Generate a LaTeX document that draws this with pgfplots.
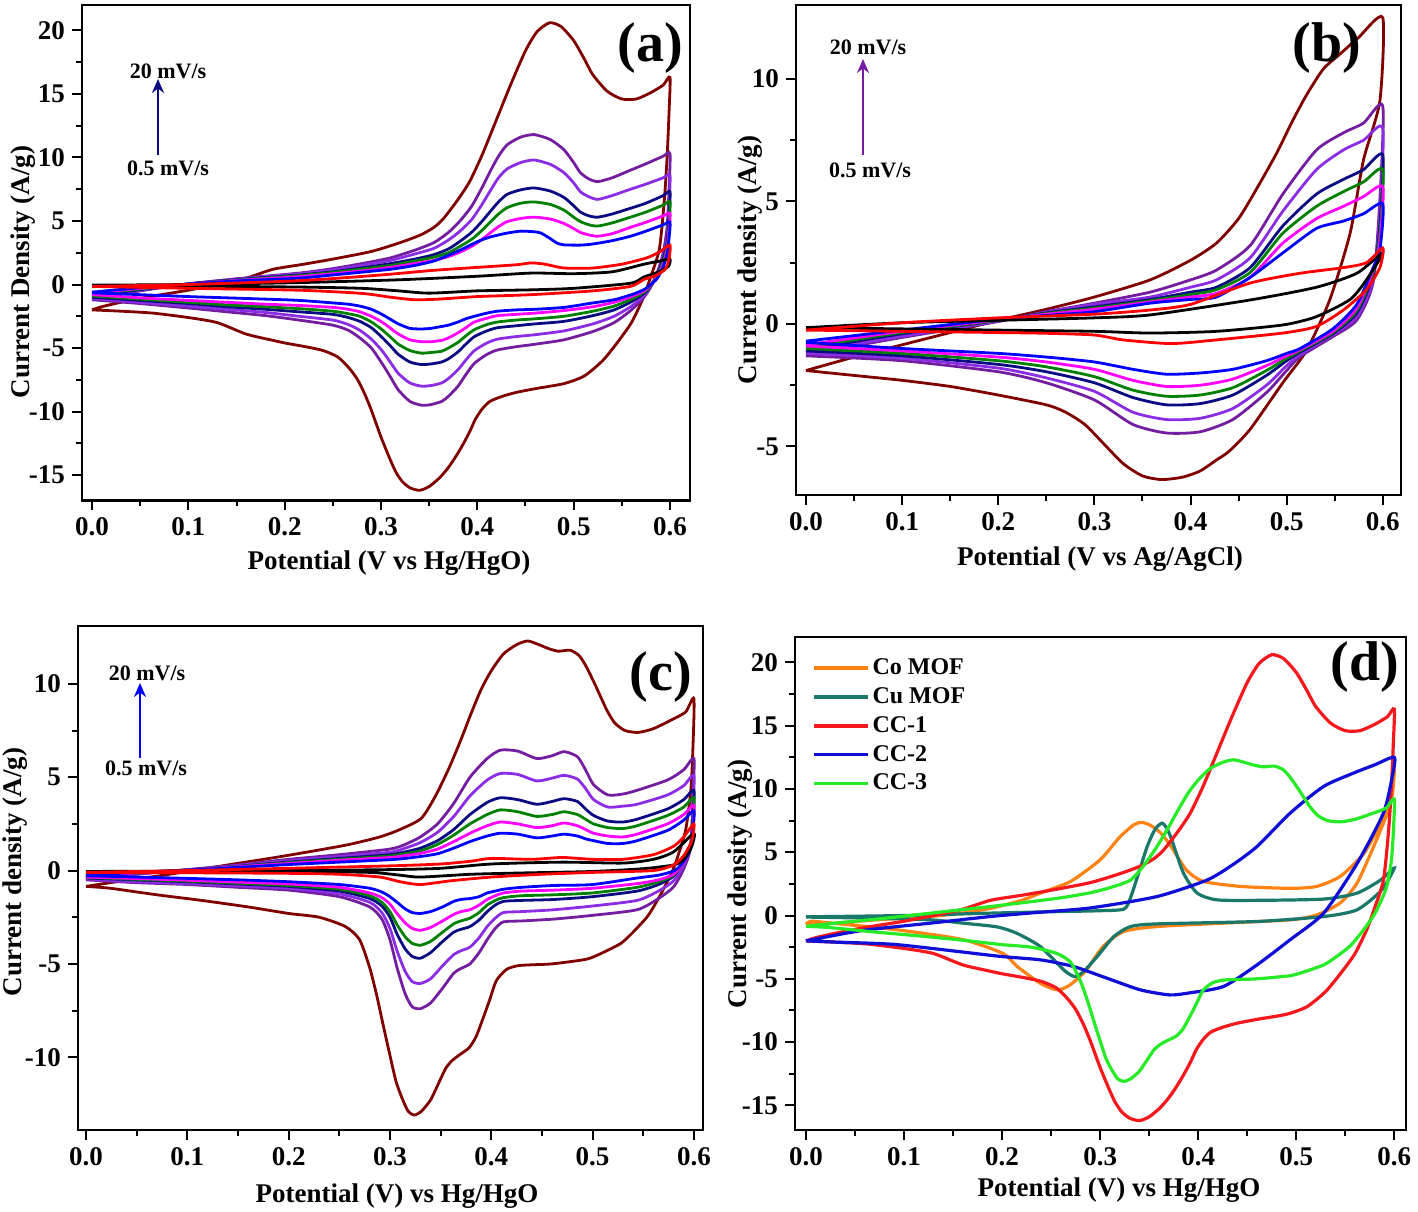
\documentclass[border=0pt]{standalone}
\usepackage{fontspec}
\setmainfont{Liberation Serif}
\usepackage{pgfplots}
\usepackage{pgfplotstable}
\pgfplotsset{compat=1.18}
\usetikzlibrary{arrows.meta}

\definecolor{cmar}{RGB}{128,0,0}
\definecolor{cpur}{RGB}{115,30,160}
\definecolor{cvio}{RGB}{140,45,230}
\definecolor{cnav}{RGB}{10,10,130}
\definecolor{cgrn}{RGB}{0,128,0}
\definecolor{cmag}{RGB}{255,0,255}
\definecolor{cblu}{RGB}{0,0,255}
\definecolor{cred}{RGB}{255,0,0}
\definecolor{dor}{RGB}{255,130,20}
\definecolor{dteal}{RGB}{25,120,105}
\definecolor{dred}{RGB}{245,25,30}
\definecolor{dblu}{RGB}{15,15,215}
\definecolor{dgrn}{RGB}{40,235,40}

\newcommand{\tickfont}{\fontsize{13.5}{14}\selectfont\bfseries}
\newcommand{\labfont}{\fontsize{13.5}{14}\selectfont\bfseries}
\newcommand{\notefont}{\fontsize{11}{12}\selectfont\bfseries}
\newcommand{\panfont}{\fontsize{28}{28}\selectfont\bfseries}

% ---------- shared curves (20 mV/s = CC samples) ----------
\pgfplotstableread[row sep=\\]{x y\\
0 -2.0\\ 0.01 -1.75\\ 0.03 -1.4\\ 0.06 -0.95\\ 0.1 -0.45\\ 0.13 0.0\\ 0.16 0.5\\ 0.188 1.2\\ 0.22 1.6\\ 0.25 2.0\\
0.29 2.6\\ 0.32 3.3\\ 0.341 3.9\\ 0.355 4.5\\ 0.365 5.2\\ 0.38 6.7\\ 0.392 8.1\\ 0.405 10.2\\ 0.42 13.0\\ 0.435 15.8\\
0.45 18.4\\ 0.462 19.9\\ 0.475 20.6\\ 0.487 20.3\\ 0.5 19.2\\ 0.51 17.9\\ 0.52 16.5\\ 0.535 15.2\\ 0.55 14.6\\ 0.565 14.6\\
0.58 15.1\\ 0.593 15.7\\ 0.6 16.3\\ 0.599 13.5\\ 0.597 10\\ 0.594 6.5\\ 0.589 2.8\\ 0.58 0.6\\ 0.572 -1.1\\ 0.56 -3.0\\
0.545 -4.6\\ 0.53 -6.0\\ 0.511 -7.2\\ 0.49 -7.8\\ 0.46 -8.2\\ 0.44 -8.5\\ 0.426 -8.8\\ 0.413 -9.2\\ 0.405 -9.8\\ 0.398 -10.6\\
0.392 -11.6\\ 0.385 -12.6\\ 0.378 -13.5\\ 0.37 -14.4\\ 0.361 -15.2\\ 0.35 -15.9\\ 0.34 -16.2\\ 0.33 -16.0\\ 0.322 -15.5\\ 0.315 -14.7\\
0.308 -13.5\\ 0.3 -12.0\\ 0.29 -9.9\\ 0.283 -8.6\\ 0.275 -7.4\\ 0.266 -6.5\\ 0.255 -5.7\\ 0.24 -5.2\\ 0.222 -4.9\\ 0.2 -4.6\\
0.188 -4.4\\ 0.16 -3.9\\ 0.13 -3.0\\ 0.1 -2.6\\ 0.063 -2.25\\ 0.03 -2.1\\ 0 -2.0\\
}\ccone

\pgfplotstableread[row sep=\\]{x y\\
0 -0.85\\ 0.03 -0.6\\ 0.07 -0.3\\ 0.1 -0.05\\ 0.14 0.3\\ 0.188 0.71\\ 0.23 1.1\\ 0.26 1.4\\ 0.29 1.8\\ 0.31 2.2\\
0.331 2.8\\ 0.345 4.0\\ 0.358 5.45\\ 0.37 7.0\\ 0.38 8.4\\ 0.39 9.7\\ 0.4 10.7\\ 0.412 11.6\\ 0.425 12.1\\ 0.436 12.3\\
0.447 12.1\\ 0.456 11.9\\ 0.466 11.75\\ 0.478 11.8\\ 0.487 11.5\\ 0.494 10.9\\ 0.503 9.9\\ 0.514 8.6\\ 0.522 7.9\\ 0.532 7.5\\
0.545 7.4\\ 0.56 7.6\\ 0.579 8.1\\ 0.592 8.5\\ 0.6 9.2\\ 0.599 6.5\\ 0.597 4.3\\ 0.592 2.2\\ 0.585 0.9\\ 0.579 0.0\\
0.568 -1.2\\ 0.555 -2.4\\ 0.54 -3.3\\ 0.528 -3.9\\ 0.51 -4.4\\ 0.494 -4.75\\ 0.46 -5.0\\ 0.44 -5.05\\ 0.426 -5.1\\ 0.415 -5.3\\
0.405 -5.9\\ 0.398 -7.0\\ 0.392 -7.9\\ 0.385 -8.9\\ 0.378 -9.5\\ 0.368 -9.9\\ 0.361 -10.2\\ 0.355 -10.6\\ 0.348 -11.4\\ 0.34 -12.3\\
0.331 -12.9\\ 0.324 -13.1\\ 0.318 -12.9\\ 0.312 -12.2\\ 0.306 -11.3\\ 0.3 -9.9\\ 0.293 -8.2\\ 0.287 -6.7\\ 0.28 -5.2\\ 0.27 -3.7\\
0.256 -3.0\\ 0.23 -2.5\\ 0.2 -2.3\\ 0.16 -1.95\\ 0.114 -1.6\\ 0.07 -1.3\\ 0.024 -0.95\\ 0 -0.85\\
}\ccthree

% ---------- panel (a) ----------
\pgfplotstableread[row sep=\\]{x y\\
0 -1.1\\ 0.05 -0.5\\ 0.1 0.05\\ 0.15 0.45\\ 0.215 0.9\\ 0.25 1.25\\ 0.284 1.7\\ 0.31 2.1\\ 0.335 2.7\\ 0.355 3.3\\
0.37 4.1\\ 0.382 5.0\\ 0.394 6.15\\ 0.404 7.5\\ 0.414 9.0\\ 0.422 10.1\\ 0.431 11.0\\ 0.445 11.6\\ 0.459 11.8\\ 0.476 11.4\\
0.49 10.6\\ 0.5 9.6\\ 0.507 8.8\\ 0.516 8.3\\ 0.525 8.1\\ 0.54 8.4\\ 0.559 9.0\\ 0.575 9.5\\ 0.593 10.1\\ 0.6 10.3\\
0.599 7.5\\ 0.597 4.5\\ 0.593 2.5\\ 0.587 1.0\\ 0.58 -0.2\\ 0.573 -1.0\\ 0.56 -2.0\\ 0.542 -3.0\\ 0.52 -3.7\\ 0.49 -4.35\\
0.46 -4.7\\ 0.44 -4.9\\ 0.421 -5.15\\ 0.41 -5.5\\ 0.397 -6.2\\ 0.388 -7.1\\ 0.38 -8.0\\ 0.37 -8.8\\ 0.363 -9.2\\ 0.352 -9.45\\
0.342 -9.5\\ 0.33 -9.2\\ 0.318 -8.3\\ 0.31 -7.3\\ 0.301 -6.2\\ 0.29 -5.0\\ 0.278 -4.2\\ 0.266 -3.6\\ 0.25 -3.2\\ 0.215 -2.8\\
0.18 -2.45\\ 0.14 -2.15\\ 0.1 -1.85\\ 0.05 -1.5\\ 0 -1.2\\
}\aP
\pgfplotstableread[row sep=\\]{x y\\
0 -1.0\\ 0.05 -0.45\\ 0.1 0.05\\ 0.15 0.42\\ 0.215 0.85\\ 0.25 1.15\\ 0.284 1.55\\ 0.31 1.9\\ 0.335 2.4\\ 0.355 2.85\\
0.37 3.5\\ 0.382 4.2\\ 0.394 5.1\\ 0.404 6.2\\ 0.414 7.45\\ 0.422 8.4\\ 0.431 9.1\\ 0.445 9.6\\ 0.459 9.8\\ 0.476 9.45\\
0.49 8.8\\ 0.5 8.0\\ 0.507 7.3\\ 0.516 6.9\\ 0.525 6.7\\ 0.54 7.0\\ 0.559 7.5\\ 0.575 7.9\\ 0.593 8.4\\ 0.6 8.6\\
0.599 6.3\\ 0.597 3.8\\ 0.593 2.2\\ 0.587 0.9\\ 0.58 -0.15\\ 0.573 -0.85\\ 0.56 -1.7\\ 0.542 -2.5\\ 0.52 -3.1\\ 0.49 -3.65\\
0.46 -3.95\\ 0.44 -4.1\\ 0.421 -4.3\\ 0.41 -4.6\\ 0.397 -5.2\\ 0.388 -5.95\\ 0.38 -6.7\\ 0.37 -7.4\\ 0.363 -7.75\\ 0.352 -7.95\\
0.342 -8.0\\ 0.33 -7.75\\ 0.318 -7.0\\ 0.31 -6.15\\ 0.301 -5.2\\ 0.29 -4.3\\ 0.278 -3.6\\ 0.266 -3.15\\ 0.25 -2.8\\ 0.215 -2.5\\
0.18 -2.2\\ 0.14 -1.95\\ 0.1 -1.7\\ 0.05 -1.4\\ 0 -1.1\\
}\aV
\pgfplotstableread[row sep=\\]{x y\\
0 -0.9\\ 0.05 -0.4\\ 0.1 0.04\\ 0.15 0.38\\ 0.215 0.75\\ 0.25 1.0\\ 0.284 1.35\\ 0.31 1.65\\ 0.335 2.0\\ 0.355 2.35\\
0.37 2.8\\ 0.382 3.4\\ 0.394 4.1\\ 0.404 4.9\\ 0.414 5.8\\ 0.422 6.5\\ 0.431 7.1\\ 0.445 7.45\\ 0.459 7.6\\ 0.476 7.35\\
0.49 6.85\\ 0.5 6.2\\ 0.507 5.7\\ 0.516 5.4\\ 0.525 5.3\\ 0.54 5.55\\ 0.559 6.0\\ 0.575 6.4\\ 0.593 7.0\\ 0.6 7.3\\
0.599 5.3\\ 0.597 3.3\\ 0.593 2.0\\ 0.587 0.8\\ 0.58 -0.1\\ 0.573 -0.7\\ 0.56 -1.35\\ 0.542 -2.0\\ 0.52 -2.45\\ 0.49 -2.9\\
0.46 -3.1\\ 0.44 -3.25\\ 0.421 -3.4\\ 0.41 -3.65\\ 0.397 -4.1\\ 0.388 -4.7\\ 0.38 -5.3\\ 0.37 -5.85\\ 0.363 -6.1\\ 0.352 -6.25\\
0.342 -6.3\\ 0.33 -6.1\\ 0.318 -5.5\\ 0.31 -4.85\\ 0.301 -4.15\\ 0.29 -3.4\\ 0.278 -2.9\\ 0.266 -2.6\\ 0.25 -2.35\\ 0.215 -2.15\\
0.18 -1.95\\ 0.14 -1.75\\ 0.1 -1.5\\ 0.05 -1.25\\ 0 -1.0\\
}\aN
\pgfplotstableread[row sep=\\]{x y\\
0 -0.8\\ 0.05 -0.35\\ 0.1 0.04\\ 0.15 0.35\\ 0.215 0.7\\ 0.25 0.95\\ 0.284 1.25\\ 0.31 1.5\\ 0.335 1.85\\ 0.355 2.15\\
0.37 2.5\\ 0.382 3.0\\ 0.394 3.55\\ 0.404 4.2\\ 0.414 4.95\\ 0.422 5.55\\ 0.431 6.05\\ 0.445 6.4\\ 0.459 6.5\\ 0.476 6.3\\
0.49 5.85\\ 0.5 5.3\\ 0.507 4.95\\ 0.516 4.7\\ 0.525 4.6\\ 0.54 4.85\\ 0.559 5.3\\ 0.575 5.7\\ 0.593 6.25\\ 0.6 6.5\\
0.599 4.7\\ 0.597 3.0\\ 0.593 1.8\\ 0.587 0.7\\ 0.58 -0.1\\ 0.573 -0.6\\ 0.56 -1.15\\ 0.542 -1.7\\ 0.52 -2.1\\ 0.49 -2.5\\
0.46 -2.7\\ 0.44 -2.8\\ 0.421 -2.95\\ 0.41 -3.15\\ 0.397 -3.55\\ 0.388 -4.05\\ 0.38 -4.55\\ 0.37 -5.0\\ 0.363 -5.25\\ 0.352 -5.35\\
0.342 -5.4\\ 0.33 -5.2\\ 0.318 -4.7\\ 0.31 -4.15\\ 0.301 -3.55\\ 0.29 -2.95\\ 0.278 -2.5\\ 0.266 -2.3\\ 0.25 -2.1\\ 0.215 -1.9\\
0.18 -1.75\\ 0.14 -1.6\\ 0.1 -1.4\\ 0.05 -1.15\\ 0 -0.9\\
}\aG
\pgfplotstableread[row sep=\\]{x y\\
0 -0.7\\ 0.05 -0.3\\ 0.1 0.03\\ 0.15 0.32\\ 0.215 0.62\\ 0.25 0.85\\ 0.284 1.1\\ 0.31 1.35\\ 0.335 1.65\\ 0.355 1.9\\
0.37 2.2\\ 0.382 2.55\\ 0.394 3.0\\ 0.404 3.5\\ 0.414 4.1\\ 0.422 4.55\\ 0.431 4.95\\ 0.445 5.2\\ 0.459 5.3\\ 0.476 5.15\\
0.49 4.8\\ 0.5 4.4\\ 0.507 4.1\\ 0.516 3.9\\ 0.525 3.8\\ 0.54 4.0\\ 0.559 4.5\\ 0.575 4.9\\ 0.593 5.4\\ 0.6 5.6\\
0.599 4.2\\ 0.597 2.7\\ 0.593 1.6\\ 0.587 0.6\\ 0.58 -0.05\\ 0.573 -0.5\\ 0.56 -0.95\\ 0.542 -1.4\\ 0.52 -1.75\\ 0.49 -2.05\\
0.46 -2.25\\ 0.44 -2.35\\ 0.421 -2.45\\ 0.41 -2.65\\ 0.397 -2.95\\ 0.388 -3.4\\ 0.38 -3.8\\ 0.37 -4.2\\ 0.363 -4.4\\ 0.352 -4.5\\
0.342 -4.5\\ 0.33 -4.35\\ 0.318 -3.9\\ 0.31 -3.45\\ 0.301 -2.95\\ 0.29 -2.5\\ 0.278 -2.15\\ 0.266 -1.95\\ 0.25 -1.8\\ 0.215 -1.65\\
0.18 -1.55\\ 0.14 -1.4\\ 0.1 -1.25\\ 0.05 -1.05\\ 0 -0.8\\
}\aM
\pgfplotstableread[row sep=\\]{x y\\
0 -0.6\\ 0.05 -0.25\\ 0.1 0.03\\ 0.15 0.28\\ 0.215 0.5\\ 0.25 0.75\\ 0.284 1.0\\ 0.31 1.2\\ 0.335 1.5\\ 0.355 1.85\\
0.37 2.3\\ 0.382 2.7\\ 0.394 3.15\\ 0.404 3.5\\ 0.414 3.75\\ 0.422 3.9\\ 0.431 4.05\\ 0.445 4.2\\ 0.459 4.15\\ 0.466 4.05\\
0.476 3.6\\ 0.483 3.25\\ 0.49 3.12\\ 0.5 3.1\\ 0.507 3.1\\ 0.516 3.15\\ 0.525 3.25\\ 0.54 3.45\\ 0.559 3.8\\ 0.575 4.2\\
0.593 4.7\\ 0.6 4.9\\ 0.599 3.6\\ 0.597 2.4\\ 0.593 1.4\\ 0.587 0.5\\ 0.58 0.0\\ 0.573 -0.4\\ 0.56 -0.8\\ 0.542 -1.2\\
0.52 -1.45\\ 0.49 -1.8\\ 0.46 -1.95\\ 0.44 -2.0\\ 0.421 -2.1\\ 0.41 -2.25\\ 0.397 -2.5\\ 0.388 -2.7\\ 0.38 -2.95\\ 0.37 -3.2\\
0.363 -3.3\\ 0.352 -3.45\\ 0.342 -3.5\\ 0.33 -3.45\\ 0.318 -3.1\\ 0.31 -2.75\\ 0.301 -2.35\\ 0.29 -1.95\\ 0.278 -1.7\\ 0.266 -1.55\\
0.25 -1.45\\ 0.215 -1.25\\ 0.18 -1.15\\ 0.14 -1.05\\ 0.1 -0.95\\ 0.05 -0.8\\ 0 -0.65\\
}\aB
\pgfplotstableread[row sep=\\]{x y\\
0 -0.15\\ 0.1 0.0\\ 0.215 0.3\\ 0.3 0.75\\ 0.352 1.1\\ 0.4 1.35\\ 0.44 1.55\\ 0.456 1.7\\ 0.47 1.6\\ 0.49 1.3\\
0.52 1.3\\ 0.55 1.6\\ 0.576 2.1\\ 0.59 2.6\\ 0.6 3.1\\ 0.599 2.0\\ 0.595 1.2\\ 0.585 0.7\\ 0.573 0.4\\ 0.559 -0.15\\
0.52 -0.5\\ 0.456 -0.8\\ 0.4 -0.95\\ 0.36 -1.15\\ 0.335 -1.2\\ 0.31 -1.0\\ 0.28 -0.7\\ 0.215 -0.45\\ 0.1 -0.3\\ 0 -0.15\\
}\aR
\pgfplotstableread[row sep=\\]{x y\\
0 -0.05\\ 0.1 0.0\\ 0.215 0.15\\ 0.318 0.37\\ 0.4 0.65\\ 0.456 0.9\\ 0.5 0.85\\ 0.54 1.0\\ 0.573 1.6\\ 0.59 1.85\\
0.6 2.0\\ 0.598 1.4\\ 0.585 0.9\\ 0.573 0.6\\ 0.559 0.1\\ 0.5 -0.3\\ 0.456 -0.42\\ 0.4 -0.5\\ 0.35 -0.68\\ 0.318 -0.5\\
0.28 -0.3\\ 0.215 -0.2\\ 0.1 -0.12\\ 0 -0.05\\
}\aK

% ---------- panel (b) ----------
\pgfplotstableread[row sep=\\]{x y\\
0 -1.9\\ 0.05 -1.35\\ 0.1 -0.85\\ 0.15 -0.35\\ 0.2 0.15\\ 0.25 0.6\\ 0.3 1.1\\ 0.358 1.8\\ 0.4 2.6\\ 0.427 3.3\\
0.45 4.3\\ 0.47 5.6\\ 0.49 7.0\\ 0.505 8.2\\ 0.52 9.3\\ 0.538 10.4\\ 0.555 11.0\\ 0.575 11.7\\ 0.6 12.5\\ 0.597 9.1\\
0.58 6.7\\ 0.566 3.7\\ 0.545 1.0\\ 0.521 -1.06\\ 0.496 -2.4\\ 0.462 -4.3\\ 0.44 -5.2\\ 0.427 -5.55\\ 0.41 -6.0\\ 0.392 -6.25\\
0.37 -6.35\\ 0.35 -6.2\\ 0.33 -5.7\\ 0.31 -4.9\\ 0.29 -4.1\\ 0.27 -3.6\\ 0.25 -3.3\\ 0.2 -2.9\\ 0.15 -2.55\\ 0.1 -2.3\\
0.05 -2.1\\ 0 -1.9\\
}\bMar
\pgfplotstableread[row sep=\\]{x y\\
0 -1.25\\ 0.1 -0.55\\ 0.2 0.1\\ 0.25 0.5\\ 0.3 0.85\\ 0.358 1.3\\ 0.4 1.8\\ 0.427 2.2\\ 0.462 3.2\\ 0.496 5.3\\
0.531 7.1\\ 0.559 7.8\\ 0.58 8.2\\ 0.6 8.9\\ 0.597 5.1\\ 0.59 1.7\\ 0.573 0.16\\ 0.548 -0.52\\ 0.514 -1.33\\ 0.5 -1.9\\
0.479 -2.8\\ 0.444 -3.9\\ 0.41 -4.4\\ 0.375 -4.45\\ 0.34 -4.1\\ 0.3 -3.1\\ 0.25 -2.4\\ 0.2 -1.95\\ 0.1 -1.5\\ 0 -1.3\\
}\bP
\pgfplotstableread[row sep=\\]{x y\\
0 -1.15\\ 0.1 -0.5\\ 0.2 0.12\\ 0.25 0.48\\ 0.3 0.8\\ 0.358 1.1\\ 0.4 1.5\\ 0.427 1.8\\ 0.462 2.7\\ 0.496 4.6\\
0.531 6.3\\ 0.559 7.1\\ 0.58 7.5\\ 0.6 8.0\\ 0.597 4.5\\ 0.59 1.8\\ 0.573 0.3\\ 0.548 -0.45\\ 0.514 -1.25\\ 0.5 -1.7\\
0.479 -2.5\\ 0.444 -3.45\\ 0.41 -3.85\\ 0.375 -3.9\\ 0.34 -3.6\\ 0.3 -2.75\\ 0.25 -2.2\\ 0.2 -1.8\\ 0.1 -1.4\\ 0 -1.2\\
}\bV
\pgfplotstableread[row sep=\\]{x y\\
0 -1.05\\ 0.1 -0.4\\ 0.2 0.15\\ 0.25 0.45\\ 0.3 0.7\\ 0.358 1.0\\ 0.4 1.3\\ 0.427 1.5\\ 0.462 2.3\\ 0.496 4.0\\
0.531 5.3\\ 0.559 5.9\\ 0.58 6.3\\ 0.6 6.9\\ 0.597 4.0\\ 0.59 2.0\\ 0.573 0.45\\ 0.548 -0.4\\ 0.514 -1.15\\ 0.5 -1.5\\
0.479 -2.1\\ 0.444 -2.9\\ 0.41 -3.25\\ 0.375 -3.3\\ 0.34 -3.0\\ 0.3 -2.4\\ 0.25 -1.95\\ 0.2 -1.65\\ 0.1 -1.3\\ 0 -1.1\\
}\bN
\pgfplotstableread[row sep=\\]{x y\\
0 -0.95\\ 0.1 -0.35\\ 0.2 0.15\\ 0.25 0.43\\ 0.3 0.65\\ 0.358 0.95\\ 0.4 1.2\\ 0.427 1.4\\ 0.462 2.1\\ 0.496 3.7\\
0.531 4.8\\ 0.559 5.4\\ 0.58 5.8\\ 0.6 6.3\\ 0.597 3.7\\ 0.59 2.1\\ 0.573 0.55\\ 0.548 -0.35\\ 0.514 -1.1\\ 0.5 -1.4\\
0.479 -1.9\\ 0.444 -2.6\\ 0.41 -2.9\\ 0.375 -2.95\\ 0.34 -2.7\\ 0.3 -2.15\\ 0.25 -1.75\\ 0.2 -1.5\\ 0.1 -1.2\\ 0 -1.0\\
}\bG
\pgfplotstableread[row sep=\\]{x y\\
0 -0.85\\ 0.1 -0.3\\ 0.2 0.17\\ 0.25 0.4\\ 0.3 0.6\\ 0.358 0.9\\ 0.4 1.1\\ 0.427 1.25\\ 0.462 1.9\\ 0.496 3.3\\
0.531 4.3\\ 0.559 4.8\\ 0.58 5.2\\ 0.6 5.6\\ 0.597 3.4\\ 0.59 2.2\\ 0.573 0.65\\ 0.548 -0.3\\ 0.514 -1.05\\ 0.5 -1.3\\
0.479 -1.7\\ 0.444 -2.25\\ 0.41 -2.5\\ 0.375 -2.55\\ 0.34 -2.3\\ 0.3 -1.85\\ 0.25 -1.55\\ 0.2 -1.35\\ 0.1 -1.1\\ 0 -0.9\\
}\bM
\pgfplotstableread[row sep=\\]{x y\\
0 -0.7\\ 0.1 -0.25\\ 0.2 0.2\\ 0.25 0.35\\ 0.3 0.5\\ 0.358 0.85\\ 0.4 1.0\\ 0.427 1.1\\ 0.462 1.9\\ 0.496 2.9\\
0.531 3.9\\ 0.559 4.2\\ 0.58 4.5\\ 0.6 4.9\\ 0.597 3.0\\ 0.59 2.3\\ 0.573 0.8\\ 0.548 -0.2\\ 0.514 -1.0\\ 0.5 -1.2\\
0.479 -1.5\\ 0.444 -1.85\\ 0.41 -2.0\\ 0.375 -2.05\\ 0.34 -1.85\\ 0.3 -1.55\\ 0.25 -1.35\\ 0.2 -1.2\\ 0.1 -1.0\\ 0 -0.75\\
}\bB
\pgfplotstableread[row sep=\\]{x y\\
0 -0.25\\ 0.1 0.05\\ 0.2 0.25\\ 0.3 0.4\\ 0.358 0.57\\ 0.4 0.8\\ 0.462 1.67\\ 0.514 2.07\\ 0.559 2.3\\ 0.583 2.5\\
0.6 3.1\\ 0.597 2.3\\ 0.583 1.4\\ 0.559 0.57\\ 0.531 -0.1\\ 0.496 -0.37\\ 0.427 -0.65\\ 0.38 -0.8\\ 0.33 -0.65\\ 0.3 -0.45\\
0.25 -0.38\\ 0.2 -0.35\\ 0.1 -0.3\\ 0 -0.25\\
}\bR
\pgfplotstableread[row sep=\\]{x y\\
0 -0.15\\ 0.1 0.05\\ 0.2 0.15\\ 0.3 0.25\\ 0.358 0.37\\ 0.462 0.98\\ 0.531 1.5\\ 0.573 2.07\\ 0.6 2.9\\ 0.583 1.8\\
0.566 1.0\\ 0.531 0.3\\ 0.496 -0.04\\ 0.427 -0.3\\ 0.358 -0.37\\ 0.3 -0.3\\ 0.2 -0.25\\ 0.1 -0.2\\ 0 -0.15\\
}\bK

% ---------- panel (c) ----------
\pgfplotstableread[row sep=\\]{x y\\
0 -0.45\\ 0.05 -0.2\\ 0.1 0.05\\ 0.15 0.3\\ 0.2 0.6\\ 0.25 0.85\\ 0.3 1.15\\ 0.315 1.4\\ 0.33 1.8\\ 0.347 2.5\\
0.363 3.6\\ 0.379 5.0\\ 0.396 6.0\\ 0.409 6.45\\ 0.426 6.4\\ 0.445 6.0\\ 0.46 6.15\\ 0.472 6.37\\ 0.485 6.1\\ 0.493 5.4\\
0.501 4.6\\ 0.515 4.05\\ 0.53 4.1\\ 0.544 4.3\\ 0.574 4.85\\ 0.59 5.4\\ 0.6 6.0\\ 0.599 4.0\\ 0.597 1.3\\ 0.59 0.1\\
0.58 -0.87\\ 0.565 -1.5\\ 0.544 -2.1\\ 0.5 -2.4\\ 0.462 -2.6\\ 0.43 -2.7\\ 0.412 -2.75\\ 0.404 -3.1\\ 0.396 -3.7\\ 0.388 -4.4\\
0.379 -5.0\\ 0.37 -5.25\\ 0.363 -5.5\\ 0.352 -6.3\\ 0.34 -7.1\\ 0.33 -7.4\\ 0.322 -7.3\\ 0.315 -6.6\\ 0.307 -5.2\\ 0.3 -3.7\\
0.292 -2.6\\ 0.28 -1.95\\ 0.25 -1.4\\ 0.2 -1.05\\ 0.15 -0.9\\ 0.1 -0.75\\ 0.05 -0.65\\ 0 -0.5\\
}\cP
\pgfplotstableread[row sep=\\]{x y\\
0 -0.4\\ 0.05 -0.18\\ 0.1 0.04\\ 0.15 0.27\\ 0.2 0.52\\ 0.25 0.75\\ 0.3 0.98\\ 0.315 1.2\\ 0.33 1.5\\ 0.347 2.05\\
0.363 2.9\\ 0.379 4.0\\ 0.396 4.85\\ 0.409 5.2\\ 0.426 5.15\\ 0.445 4.8\\ 0.46 4.95\\ 0.472 5.1\\ 0.485 4.9\\ 0.493 4.4\\
0.501 3.8\\ 0.515 3.4\\ 0.53 3.45\\ 0.544 3.55\\ 0.574 4.05\\ 0.59 4.55\\ 0.6 5.1\\ 0.599 3.4\\ 0.597 1.4\\ 0.59 0.3\\
0.58 -0.55\\ 0.565 -1.1\\ 0.544 -1.6\\ 0.5 -1.9\\ 0.462 -2.1\\ 0.43 -2.2\\ 0.412 -2.25\\ 0.404 -2.55\\ 0.396 -3.0\\ 0.388 -3.6\\
0.379 -4.1\\ 0.37 -4.3\\ 0.363 -4.5\\ 0.352 -5.1\\ 0.34 -5.8\\ 0.33 -6.05\\ 0.322 -5.95\\ 0.315 -5.4\\ 0.307 -4.3\\ 0.3 -3.1\\
0.292 -2.25\\ 0.28 -1.7\\ 0.25 -1.25\\ 0.2 -0.95\\ 0.15 -0.82\\ 0.1 -0.7\\ 0.05 -0.6\\ 0 -0.45\\
}\cV
\pgfplotstableread[row sep=\\]{x y\\
0 -0.35\\ 0.05 -0.15\\ 0.1 0.03\\ 0.15 0.23\\ 0.2 0.45\\ 0.25 0.65\\ 0.3 0.85\\ 0.315 1.0\\ 0.33 1.2\\ 0.347 1.6\\
0.363 2.2\\ 0.379 3.0\\ 0.396 3.65\\ 0.409 3.9\\ 0.426 3.8\\ 0.445 3.55\\ 0.46 3.7\\ 0.472 3.85\\ 0.485 3.7\\ 0.493 3.3\\
0.501 2.95\\ 0.515 2.65\\ 0.53 2.6\\ 0.544 2.75\\ 0.574 3.3\\ 0.59 3.8\\ 0.6 4.3\\ 0.599 2.8\\ 0.597 1.5\\ 0.59 0.5\\
0.58 -0.3\\ 0.565 -0.75\\ 0.544 -1.1\\ 0.5 -1.4\\ 0.462 -1.55\\ 0.43 -1.6\\ 0.412 -1.65\\ 0.404 -1.85\\ 0.396 -2.2\\ 0.388 -2.65\\
0.379 -3.0\\ 0.37 -3.15\\ 0.363 -3.3\\ 0.352 -3.8\\ 0.34 -4.4\\ 0.33 -4.7\\ 0.322 -4.6\\ 0.315 -4.2\\ 0.307 -3.4\\ 0.3 -2.5\\
0.292 -1.9\\ 0.28 -1.5\\ 0.25 -1.1\\ 0.2 -0.85\\ 0.15 -0.72\\ 0.1 -0.6\\ 0.05 -0.5\\ 0 -0.4\\
}\cN
\pgfplotstableread[row sep=\\]{x y\\
0 -0.32\\ 0.05 -0.14\\ 0.1 0.03\\ 0.15 0.21\\ 0.2 0.42\\ 0.25 0.6\\ 0.3 0.78\\ 0.315 0.9\\ 0.33 1.05\\ 0.347 1.4\\
0.363 1.9\\ 0.379 2.5\\ 0.396 3.0\\ 0.409 3.25\\ 0.426 3.15\\ 0.445 2.9\\ 0.46 3.0\\ 0.472 3.15\\ 0.485 3.0\\ 0.493 2.75\\
0.501 2.5\\ 0.515 2.3\\ 0.53 2.25\\ 0.544 2.4\\ 0.574 2.95\\ 0.59 3.4\\ 0.6 3.9\\ 0.599 2.5\\ 0.597 1.4\\ 0.59 0.45\\
0.58 -0.25\\ 0.565 -0.6\\ 0.544 -0.9\\ 0.5 -1.2\\ 0.462 -1.3\\ 0.43 -1.35\\ 0.412 -1.45\\ 0.404 -1.6\\ 0.396 -1.85\\ 0.388 -2.25\\
0.379 -2.55\\ 0.37 -2.7\\ 0.363 -2.85\\ 0.352 -3.3\\ 0.34 -3.8\\ 0.33 -4.0\\ 0.322 -3.9\\ 0.315 -3.55\\ 0.307 -2.9\\ 0.3 -2.2\\
0.292 -1.7\\ 0.28 -1.35\\ 0.25 -1.0\\ 0.2 -0.8\\ 0.15 -0.68\\ 0.1 -0.57\\ 0.05 -0.47\\ 0 -0.37\\
}\cG
\pgfplotstableread[row sep=\\]{x y\\
0 -0.3\\ 0.05 -0.13\\ 0.1 0.02\\ 0.15 0.2\\ 0.2 0.38\\ 0.25 0.55\\ 0.3 0.7\\ 0.315 0.8\\ 0.33 0.92\\ 0.347 1.15\\
0.363 1.55\\ 0.379 2.0\\ 0.396 2.4\\ 0.409 2.6\\ 0.426 2.5\\ 0.445 2.3\\ 0.46 2.4\\ 0.472 2.55\\ 0.485 2.4\\ 0.493 2.2\\
0.501 2.0\\ 0.515 1.85\\ 0.53 1.8\\ 0.544 1.95\\ 0.574 2.5\\ 0.59 3.0\\ 0.6 3.5\\ 0.599 2.3\\ 0.597 1.3\\ 0.59 0.45\\
0.58 -0.2\\ 0.565 -0.5\\ 0.544 -0.7\\ 0.5 -0.95\\ 0.462 -1.05\\ 0.43 -1.1\\ 0.412 -1.2\\ 0.404 -1.35\\ 0.396 -1.55\\ 0.388 -1.85\\
0.379 -2.1\\ 0.37 -2.2\\ 0.363 -2.35\\ 0.352 -2.7\\ 0.34 -3.05\\ 0.33 -3.2\\ 0.322 -3.1\\ 0.315 -2.8\\ 0.307 -2.3\\ 0.3 -1.8\\
0.292 -1.45\\ 0.28 -1.2\\ 0.25 -0.9\\ 0.2 -0.72\\ 0.15 -0.62\\ 0.1 -0.52\\ 0.05 -0.43\\ 0 -0.35\\
}\cM
\pgfplotstableread[row sep=\\]{x y\\
0 -0.25\\ 0.05 -0.1\\ 0.1 0.02\\ 0.15 0.17\\ 0.2 0.32\\ 0.25 0.45\\ 0.3 0.58\\ 0.315 0.65\\ 0.33 0.75\\ 0.347 0.9\\
0.363 1.2\\ 0.379 1.55\\ 0.396 1.85\\ 0.409 2.0\\ 0.426 1.95\\ 0.445 1.75\\ 0.46 1.85\\ 0.472 1.95\\ 0.485 1.85\\ 0.493 1.7\\
0.501 1.6\\ 0.515 1.45\\ 0.53 1.45\\ 0.544 1.6\\ 0.574 2.15\\ 0.59 2.7\\ 0.6 3.2\\ 0.599 2.1\\ 0.597 1.2\\ 0.59 0.5\\
0.581 0.0\\ 0.565 -0.25\\ 0.544 -0.4\\ 0.5 -0.75\\ 0.462 -0.8\\ 0.43 -0.9\\ 0.412 -1.0\\ 0.404 -1.1\\ 0.396 -1.2\\ 0.388 -1.4\\
0.379 -1.5\\ 0.37 -1.55\\ 0.363 -1.65\\ 0.352 -1.95\\ 0.34 -2.2\\ 0.33 -2.3\\ 0.322 -2.25\\ 0.315 -2.05\\ 0.307 -1.7\\ 0.3 -1.4\\
0.292 -1.15\\ 0.28 -0.95\\ 0.25 -0.75\\ 0.2 -0.6\\ 0.15 -0.5\\ 0.1 -0.42\\ 0.05 -0.35\\ 0 -0.28\\
}\cB
\pgfplotstableread[row sep=\\]{x y\\
0 -0.1\\ 0.1 0.0\\ 0.2 0.12\\ 0.3 0.25\\ 0.35 0.35\\ 0.38 0.5\\ 0.4 0.65\\ 0.44 0.6\\ 0.47 0.7\\ 0.5 0.6\\
0.53 0.6\\ 0.56 0.85\\ 0.58 1.3\\ 0.59 1.8\\ 0.6 2.5\\ 0.598 1.6\\ 0.59 0.8\\ 0.58 0.3\\ 0.56 0.0\\ 0.5 -0.1\\
0.45 -0.2\\ 0.4 -0.35\\ 0.36 -0.55\\ 0.33 -0.75\\ 0.31 -0.6\\ 0.29 -0.35\\ 0.25 -0.2\\ 0.2 -0.15\\ 0.1 -0.12\\ 0 -0.1\\
}\cR
\pgfplotstableread[row sep=\\]{x y\\
0 -0.05\\ 0.2 0.0\\ 0.3 0.05\\ 0.35 0.12\\ 0.4 0.35\\ 0.47 0.45\\ 0.53 0.4\\ 0.56 0.6\\ 0.58 1.0\\ 0.6 2.0\\
0.598 1.3\\ 0.59 0.6\\ 0.58 0.3\\ 0.55 0.1\\ 0.5 -0.05\\ 0.43 -0.13\\ 0.38 -0.2\\ 0.33 -0.35\\ 0.31 -0.25\\ 0.28 -0.1\\
0.2 -0.05\\ 0 -0.05\\
}\cK

% ---------- panel (d) ----------
\pgfplotstableread[row sep=\\]{x y\\
0 -0.7\\ 0.03 -0.6\\ 0.07 -0.35\\ 0.1 -0.2\\ 0.13 -0.05\\ 0.16 0.2\\ 0.19 0.6\\ 0.22 1.2\\ 0.24 1.8\\ 0.27 2.7\\
0.3 4.4\\ 0.32 6.2\\ 0.335 7.2\\ 0.343 7.35\\ 0.352 7.1\\ 0.362 6.5\\ 0.372 5.5\\ 0.388 3.6\\ 0.405 2.7\\ 0.443 2.3\\
0.494 2.15\\ 0.521 2.3\\ 0.545 3.1\\ 0.569 4.9\\ 0.586 7.3\\ 0.595 9.3\\ 0.6 11.4\\ 0.598 9.5\\ 0.593 8.1\\ 0.579 5.45\\
0.562 2.56\\ 0.545 1.0\\ 0.521 0.05\\ 0.494 -0.34\\ 0.426 -0.6\\ 0.358 -0.87\\ 0.324 -1.26\\ 0.303 -2.45\\ 0.286 -4.3\\ 0.269 -5.5\\
0.256 -5.87\\ 0.239 -5.35\\ 0.215 -4.0\\ 0.201 -3.0\\ 0.16 -1.9\\ 0.093 -1.13\\ 0.024 -0.58\\ 0.005 -0.45\\ 0 -0.7\\
}\dCo
\pgfplotstableread[row sep=\\]{x y\\
0 -0.1\\ 0.1 0.0\\ 0.188 0.19\\ 0.25 0.3\\ 0.3 0.38\\ 0.324 0.5\\ 0.33 1.2\\ 0.337 2.8\\ 0.348 5.45\\ 0.356 6.8\\
0.363 7.3\\ 0.368 6.9\\ 0.373 6.0\\ 0.385 3.35\\ 0.399 1.77\\ 0.419 1.24\\ 0.46 1.2\\ 0.528 1.3\\ 0.562 1.77\\ 0.586 2.8\\
0.6 3.75\\ 0.587 2.0\\ 0.562 0.45\\ 0.528 -0.08\\ 0.46 -0.47\\ 0.358 -0.66\\ 0.331 -0.87\\ 0.314 -1.66\\ 0.297 -3.24\\ 0.283 -4.43\\
0.274 -4.82\\ 0.263 -4.3\\ 0.239 -2.45\\ 0.215 -1.4\\ 0.195 -0.9\\ 0.16 -0.6\\ 0.127 -0.34\\ 0.06 -0.2\\ 0 -0.12\\
}\dCu
\pgfplotstableread[row sep=\\]{x y\\
0 -2.0\\ 0.02 -1.7\\ 0.06 -1.15\\ 0.127 -0.6\\ 0.188 -0.08\\ 0.229 0.2\\ 0.29 0.6\\ 0.358 1.5\\ 0.409 2.8\\ 0.435 4.0\\
0.46 5.45\\ 0.494 8.1\\ 0.528 10.2\\ 0.56 11.3\\ 0.58 11.9\\ 0.6 12.5\\ 0.598 11.0\\ 0.589 8.1\\ 0.562 4.1\\ 0.528 0.19\\
0.494 -1.9\\ 0.46 -3.9\\ 0.426 -5.6\\ 0.392 -6.1\\ 0.371 -6.27\\ 0.341 -5.87\\ 0.307 -4.95\\ 0.273 -4.03\\ 0.239 -3.5\\ 0.195 -3.2\\
0.093 -2.3\\ 0.03 -2.1\\ 0 -2.0\\
}\dCCtwo

\pgfplotsset{
  cv/.style={
    scale only axis,
    axis line style={line width=1.2pt},
    every tick/.style={black, line width=1pt},
    major tick length=5pt, minor tick length=3pt,
    tick align=outside, xtick pos=bottom, ytick pos=left,
    xtick={0,0.1,0.2,0.3,0.4,0.5,0.6},
    xticklabels={0.0,0.1,0.2,0.3,0.4,0.5,0.6},
    minor x tick num=1, minor y tick num=1,
    ticklabel style={font=\tickfont},
    every axis plot/.append style={line width=1.4pt, smooth, tension=0.4, no marks},
  }
}

\begin{document}
\begin{tikzpicture}
\useasboundingbox (0,0) rectangle (709pt,605.5pt);

% ===== (a) =====
\begin{axis}[cv, at={(41pt,355.25pt)}, anchor=south west,
  width=304pt, height=247.75pt,
  xmin=-0.0104, xmax=0.6208, ymin=-17.0, ymax=22.0,
  ytick={-15,-10,-5,0,5,10,15,20},
  yticklabels={-15,-10,-5,0,5,10,15,20}]
\addplot[cmar] table {\ccone};
\addplot[cpur] table {\aP};
\addplot[cvio] table {\aV};
\addplot[cnav] table {\aN};
\addplot[cgrn] table {\aG};
\addplot[cmag] table {\aM};
\addplot[cblu] table {\aB};
\addplot[black] table {\aK};
\addplot[cred] table {\aR};
\end{axis}

% ===== (b) =====
\begin{axis}[cv, at={(398pt,358pt)}, anchor=south west,
  width=302.5pt, height=245pt,
  xmin=-0.0104, xmax=0.619, ymin=-6.98, ymax=13.02,
  ytick={-5,0,5,10}, yticklabels={-5,0,5,10}]
\addplot[cmar] table {\bMar};
\addplot[cpur] table {\bP};
\addplot[cvio] table {\bV};
\addplot[cnav] table {\bN};
\addplot[cgrn] table {\bG};
\addplot[cmag] table {\bM};
\addplot[cblu] table {\bB};
\addplot[black] table {\bK};
\addplot[cred] table {\bR};
\end{axis}

% ===== (c) =====
\begin{axis}[cv, at={(39pt,40.5pt)}, anchor=south west,
  width=312.5pt, height=252pt,
  xmin=-0.0079, xmax=0.609, ymin=-13.9, ymax=13.1,
  ytick={-10,-5,0,5,10}, yticklabels={-10,-5,0,5,10}]
\addplot[cmar] table {\ccthree};
\addplot[cpur] table {\cP};
\addplot[cvio] table {\cV};
\addplot[cnav] table {\cN};
\addplot[cgrn] table {\cG};
\addplot[cmag] table {\cM};
\addplot[cblu] table {\cB};
\addplot[black] table {\cK};
\addplot[cred] table {\cR};
\end{axis}

% ===== (d) =====
\begin{axis}[cv, at={(397.5pt,40.5pt)}, anchor=south west,
  width=305.5pt, height=246.5pt,
  xmin=-0.0112, xmax=0.612, ymin=-16.94, ymax=22.0,
  ytick={-15,-10,-5,0,5,10,15,20},
  yticklabels={-15,-10,-5,0,5,10,15,20},
  every axis plot/.append style={line width=1.6pt},
  legend cell align=left,
  legend image code/.code={\draw[#1, line width=1.8pt] (0pt,0pt) -- (27pt,0pt);},
  legend style={at={(axis description cs:0.028,0.962)}, anchor=north west,
    draw=none, fill=none, inner sep=0pt, row sep=2.6pt,
    font=\fontsize{12}{12}\selectfont\bfseries,
    nodes={inner sep=1.2pt}}]
\addplot[dor] table {\dCo};
\addlegendentry{Co MOF}
\addplot[dteal] table {\dCu};
\addlegendentry{Cu MOF}
\addplot[dred] table {\ccone};
\addlegendentry{CC-1}
\addplot[dblu] table {\dCCtwo};
\addlegendentry{CC-2}
\addplot[dgrn] table {\ccthree};
\addlegendentry{CC-3}
\end{axis}

% ===== axis titles =====
\node[rotate=90, font=\labfont] at (11.5pt,469.5pt) {Current Density (A/g)};
\node[font=\labfont] at (194.5pt,324pt) {Potential (V vs Hg/HgO)};
\node[rotate=90, font=\labfont] at (375pt,475.5pt) {Current density (A/g)};
\node[font=\labfont] at (550pt,326pt) {Potential (V vs Ag/AgCl)};
\node[rotate=90, font=\labfont] at (7.5pt,169.5pt) {Current density (A/g)};
\node[font=\labfont] at (198.5pt,7.5pt) {Potential (V) vs Hg/HgO};
\node[rotate=90, font=\labfont] at (370pt,163.5pt) {Current density (A/g)};
\node[font=\labfont] at (559.5pt,10.25pt) {Potential (V) vs Hg/HgO};

% ===== panel letters =====
\node[font=\panfont] at (325pt,581.5pt) {(a)};
\node[font=\panfont] at (663.5pt,581.5pt) {(b)};
\node[font=\panfont] at (330.5pt,267pt) {(c)};
\node[font=\panfont] at (682.5pt,272pt) {(d)};

% ===== scan-rate arrows =====
\draw[cnav, line width=1.2pt, -{Stealth[length=7pt,width=6pt]}] (79pt,528pt) -- (79pt,566pt);
\node[font=\notefont] at (84pt,570pt) {20 mV/s};
\node[font=\notefont] at (84pt,521.5pt) {0.5 mV/s};
\draw[cpur, line width=1.2pt, -{Stealth[length=7pt,width=6pt]}] (431.5pt,528pt) -- (431.5pt,576pt);
\node[font=\notefont] at (434pt,582pt) {20 mV/s};
\node[font=\notefont] at (435pt,520.5pt) {0.5 mV/s};
\draw[cblu, line width=1.2pt, -{Stealth[length=7pt,width=6pt]}] (70pt,226.5pt) -- (70pt,264pt);
\node[font=\notefont] at (73.5pt,269pt) {20 mV/s};
\node[font=\notefont] at (73pt,221.5pt) {0.5 mV/s};
\end{tikzpicture}
\end{document}
